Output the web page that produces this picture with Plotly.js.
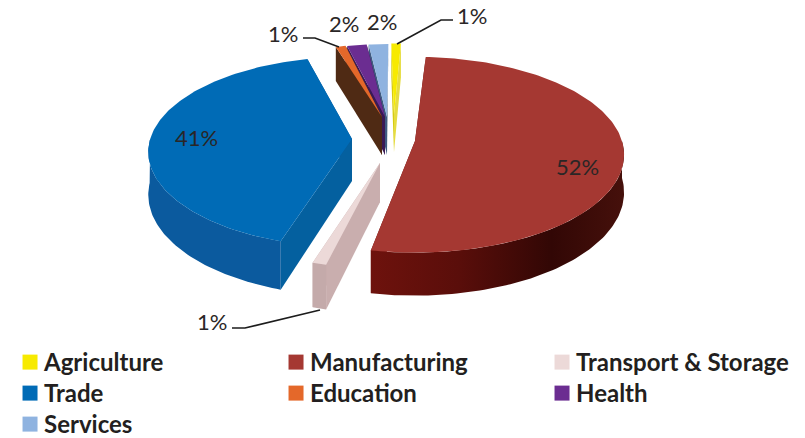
<!DOCTYPE html>
<html><head><meta charset="utf-8">
<script src="https://cdn.plot.ly/plotly-3.0.0.min.js"></script>
<style>html,body{margin:0;padding:0;background:#fff}#c{width:805px;height:438px}</style>
</head><body><div id="c"></div>
<script>
// ---- data
const categories = ['Agriculture','Manufacturing','Transport & Storage','Trade','Education','Health','Services'];
const shares = [1,52,1,41,1,2,2];
const shareLabels = ['1%','52%','1%','41%','1%','2%','2%'];

// ---- styling
const topColors  = ['#f7ea00','#a53832','#ecd9d8','#006bb6','#e4682a','#6b2d91','#8fb3e0'];
const startFace  = ['#d6cc10','#6a100c','#c9aeae','#04609f','#4f2a14','#3a1a55','#3f5a80'];
const endFace    = ['#e6dc40','#6a100c','#c9aeae','#0a5795','#4f2a14','#2a1440','#35506f'];
const arcFace    = ['#c8bd00','#5a0d0a','#c4aaaa','#0b5a9e','#3f2210','#3a1a55','#3f5a80'];
// per-slice explosion offset from the pie centre, reach, extrusion (px) and angular nudge (deg)
const offX  = [10, 31, -4, -32, -2, 1, 3];
const offY  = [-24, 3, 25, 1, -21, -21, -21];
const reach = [0.82,1,0.95,0.975,0.85,0.85,0.85];
const depth = [38,37,39,42,38,38,38];
const spin  = [-3,-2.2,1,1.5,-1,-1.5,-1.5];
const drawOrder = [3,0,6,5,4,2,1];
const labelX = [472,577,212,196,283,344,382];
const labelY = [15,166,321,137,33,23,21];
const leaderX = [[453,441,397],null,[232,245,320],null,[303,315,339],null,null];
const leaderY = [[20,20,44],null,[328,328,310],null,[38,38,47],null,null];

const cx = 384, cy = 138, Rx = 207, Ry = 96, persp = 0.14, rotDeg = 2;

function point(i, theta, r, z){
  const u = r*reach[i]*Math.sin(theta), v = r*reach[i]*Math.cos(theta);
  const s = 1/(1+persp*v);
  return [cx+offX[i]+Rx*u*s, cy+offY[i]-Ry*v*s+z*depth[i]*s];
}
function arcPts(i,a,b,z){
  const out=[], n=Math.max(2,Math.ceil(Math.abs(b-a)/0.02));
  for(let k=0;k<=n;k++) out.push(point(i,a+(b-a)*k/n,1,z));
  return out;
}
function poly(pts,color,extra){
  const xs=pts.map(p=>p[0]).concat(pts[0][0]), ys=pts.map(p=>p[1]).concat(pts[0][1]);
  return Object.assign({type:'scatter',mode:'lines',x:xs,y:ys,fill:'toself',fillcolor:color,
    line:{width:0,color:color},showlegend:false,hoverinfo:'skip'},extra||{});
}

const total = shares.reduce((a,b)=>a+b,0);
const starts=[], ends=[];
let acc = rotDeg*Math.PI/180;
shares.forEach((v,i)=>{
  const nudge=spin[i]*Math.PI/180;
  starts[i]=acc+nudge; acc+=v/total*2*Math.PI; ends[i]=acc+nudge;
});

const traces=[];
drawOrder.forEach(i=>{
  const a=starts[i], b=ends[i], apex=point(i,0,0,0), apexLow=point(i,0,0,1);
  const startPoly=poly([apex,point(i,a,1,0),point(i,a,1,1),apexLow],startFace[i]);
  const endPoly=poly([apex,point(i,b,1,0),point(i,b,1,1),apexLow],endFace[i]);
  if((a+b)/2>Math.PI) traces.push(endPoly,startPoly); else traces.push(startPoly,endPoly);
  const fa=Math.max(a,Math.PI/2), fb=Math.min(b,1.5*Math.PI);
  if(fb>fa){
    const upper=arcPts(i,fa,fb,0), lower=arcPts(i,fb,fa,1);
    const extra = i===1 ? {fillgradient:{type:'horizontal',start:370,stop:622,
      colorscale:[[0,'#6e120d'],[0.35,'#5a0e0a'],[0.72,'#320705'],[1,'#45100b']]}} : {};
    traces.push(poly(upper.concat(lower),arcFace[i],extra));
  }
  traces.push(poly([apex].concat(arcPts(i,a,b,0)),topColors[i]));
});

// leader lines
leaderX.forEach((lx,i)=>{ if(lx) traces.push({type:'scatter',mode:'lines',x:lx,y:leaderY[i],
  line:{color:'#1c1c1c',width:1.6},showlegend:false,hoverinfo:'skip'}); });

// legend entries
categories.forEach((name,i)=>traces.push({type:'scatter',mode:'markers',name:name,x:[null],y:[null],
  marker:{symbol:'square',size:15,color:topColors[i]},hoverinfo:'skip'}));

const annotations = shareLabels.map((t,i)=>({x:labelX[i],y:labelY[i],xref:'x',yref:'y',text:t,showarrow:false,
  xanchor:'center',yanchor:'middle',font:{family:'Lato, Carlito, sans-serif',size:22,color:'#2a2626'}}));

const layout={width:805,height:438,margin:{l:0,r:0,t:0,b:0},paper_bgcolor:'#fff',plot_bgcolor:'#fff',
  xaxis:{range:[0,805],visible:false,fixedrange:true},
  yaxis:{range:[438,0],visible:false,fixedrange:true},
  annotations:annotations,
  showlegend:true,
  legend:{orientation:'h',x:0.005,xanchor:'left',y:0,yanchor:'bottom',traceorder:'normal',
    entrywidth:221,entrywidthmode:'pixels',itemclick:false,itemdoubleclick:false,
    bgcolor:'rgba(0,0,0,0)',font:{family:'Lato, Carlito, sans-serif',size:24,weight:700,color:'#231f20'}}
};
const rowStep=31, legendShiftY=15, swatchShiftX=6;
function tr(el){const m=/translate\(\s*([-\d.]+)[ ,]+([-\d.]+)/.exec(el.getAttribute('transform')||'');return m?[+m[1],+m[2]]:[0,0];}
Plotly.newPlot('c',traces,layout,{staticPlot:true,displayModeBar:false}).then(gd=>{
  const items=[...gd.querySelectorAll('.legend .traces')];
  const y0=tr(items[0])[1];
  items.forEach((el,k)=>{
    const p=tr(el);
    el.setAttribute('transform',`translate(${p[0]},${y0+Math.floor(k/3)*rowStep})`);
    const sym=el.querySelector('.legendsymbols');
    if(sym) sym.setAttribute('transform',`translate(${swatchShiftX},0)`);
  });
  const lg=gd.querySelector('.legend'), q=tr(lg);
  lg.setAttribute('transform',`translate(${q[0]},${q[1]+legendShiftY})`);
});
</script></body></html>
